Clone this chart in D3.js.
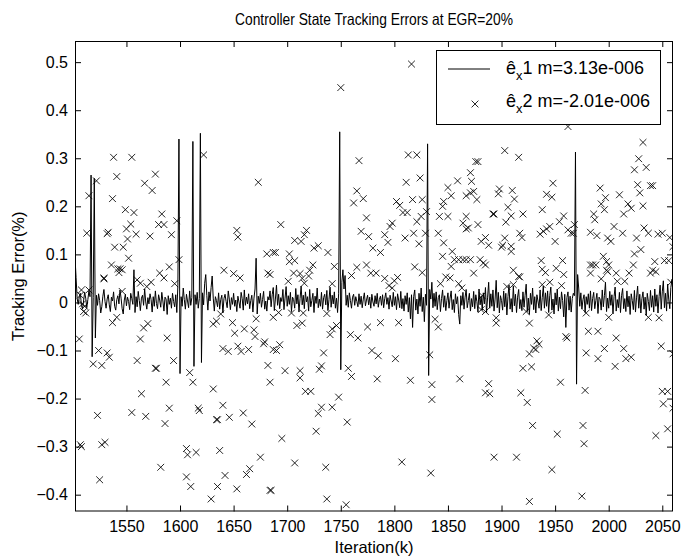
<!DOCTYPE html>
<html>
<head>
<meta charset="utf-8">
<script src="https://cdn.jsdelivr.net/npm/d3@7"></script>
<style>
  html, body { margin: 0; padding: 0; background: #fff; }
  svg { display: block; font-family: "Liberation Sans", Arial, Helvetica, sans-serif; }
</style>
</head>
<body>
<svg id="chart" width="683" height="558"></svg>
<script>
// Controller state tracking errors, EGR = 20%
const titleText = "Controller State Tracking Errors at EGR=20%";
const xLabel = "Iteration(k)";
const yLabel = "Tracking Error(%)";

const xTicks = [1550, 1600, 1650, 1700, 1750, 1800, 1850, 1900, 1950, 2000, 2050];
const yTicks = [-0.4, -0.3, -0.2, -0.1, 0, 0.1, 0.2, 0.3, 0.4, 0.5];
const xDomain = [1502, 2060];
const yDomain = [-0.435, 0.544];

// ê_x1: one value per iteration, starting at 1502
const ex1Start = 1502;
const ex1Values = [
  .093, .052, .008, -.004, .012, .019, -.006, -.014, .003, .021,
  .009, -.011, .006, .024, .012, .265, -.113, .010, .258, -.074,
  .015, -.006, .018, .004, -.022, -.009, .013, .027, .002, -.012,
  .007, .016, -.005, -.019, .011, .003, .022, -.008, -.016, .006,
  .014, -.003, .026, .009, -.013, -.024, .005, .017, -.007, .011,
  .002, -.015, .019, .008, -.004, .068, -.021, .012, -.009, .023,
  .004, -.017, .009, .015, -.006, .028, .001, -.014, .010, -.003,
  .018, .006, -.020, .012, -.008, .024, -.002, -.013, .016, .005,
  -.010, .021, .003, -.018, .011, .007, -.025, .014, -.004, .009,
  -.012, .019, .002, -.009, .016, -.021, .035, .340, -.148, .012,
  -.008, .030, .006, -.014, .017, .003, -.011, .024, -.006, .010,
  .335, -.133, .016, -.004, .021, -.012, .008, .352, -.125, .020,
  -.005, .040, .058, .014, -.016, .022, .003, .031, .055, .009,
  -.018, .012, .004, -.009, .020, -.014, .006, .015, -.022, .008,
  .017, .002, -.011, .024, .007, -.015, .010, -.004, .019, -.008,
  .005, -.019, .013, .001, -.012, .021, .008, -.016, .026, -.006,
  .011, -.003, .018, -.013, .004, .015, -.020, .009, .028, .092,
  -.024, .013, -.002, .019, -.010, .006, .023, -.014, .003, -.018,
  .012, .005, .024, -.009, .016, .031, -.017, .007, .036, -.006,
  .017, -.013, .010, .002, .027, -.015, .009, .033, -.008, .014,
  -.004, .021, -.019, .011, .006, -.012, .029, -.003, .016, -.020,
  .008, .034, -.005, .015, -.013, .022, .001, .012, -.018, .027,
  -.009, .004, .019, -.021, .013, -.002, .030, -.011, .007, -.008,
  .021, -.014, .010, .017, -.005, .025, -.017, .006, .032, -.010,
  .015, -.003, .022, -.012, .009, -.021, .018, .355, -.140, .042,
  .068, .028, .056, -.006, .015, -.010, .020, .004, -.012, .011,
  .017, -.006, .012, .002, -.009, .018, -.004, .013, -.011, .007,
  .020, -.007, .005, .015, -.005, .011, -.012, .017, .001, -.008,
  .014, -.003, .019, -.010, .006, .013, -.006, .016, -.011, .008,
  .020, -.004, .010, -.014, .015, .003, -.009, .021, -.006, .012,
  -.015, .018, .005, -.011, .023, -.013, .008, -.018, .014, -.004,
  .020, -.020, .010, -.034, .016, -.052, .012, .026, -.016, .007,
  -.024, .019, -.008, .030, -.019, .011, -.040, .017, -.006, .330,
  -.152, .027, .007, .042, -.011, .019, -.008, .022, -.015, .010,
  .016, -.019, .008, .026, -.010, .014, -.017, .004, .020, -.012,
  .009, .024, -.015, .006, -.021, .018, -.003, .012, -.025, -.045,
  .014, -.006, .021, -.014, .011, .027, -.011, .004, .019, -.018,
  .008, -.009, .023, -.013, .016, .002, -.020, .028, -.005, .013,
  -.016, .020, -.003, .031, -.022, .011, .042, -.012, .018, -.008,
  .026, -.018, .007, .046, -.011, .021, -.022, .014, .004, -.016,
  .024, -.009, .019, -.026, .012, .036, -.014, .008, -.020, .034,
  -.007, .017, -.021, .011, .027, -.013, .006, -.017, .022, -.010,
  .015, .038, -.019, .009, -.025, .019, -.004, .030, -.015, .012,
  -.022, .016, .003, -.012, .026, -.017, .010, .034, -.012, .020,
  -.008, .024, -.021, .014, .032, -.016, .007, -.024, .020, -.005,
  .028, -.018, .011, -.013, .022, .004, -.030, .017, -.052, .010,
  .022, -.016, .013, -.020, .008, .019, .014, .313, -.170, .058,
  .030, -.008, .020, -.014, .006, .016, -.021, .012, -.004, .018,
  -.012, .024, -.017, .008, .021, -.013, .004, .019, -.023, .011,
  .007, -.016, .026, -.009, .014, .042, -.019, .009, -.012, .023,
  -.006, .016, -.024, .012, .032, -.018, .006, -.011, .021, -.021,
  .014, .029, -.013, .008, -.019, .024, -.009, .013, -.025, .018,
  .004, -.015, .025, -.020, .011, .034, -.012, .017, -.022, .008,
  .022, -.014, .011, -.027, .019, .002, -.017, .025, -.010, .014,
  -.020, .028, -.008, .016, -.022, .012, .036, -.014, .022, .045,
  -.011, .019, -.018, .038, .007, -.013, .031, .048, .022
];

// ê_x2: iteration and value of each marker
const ex2Iter = [
  1513, 1515, 1522, 1529, 1532, 1533, 1536, 1537, 1538, 1539, 1541, 1542, 1543, 1544, 1546, 1547,
  1549, 1550, 1551, 1552, 1554, 1555, 1557, 1559, 1567, 1572, 1574, 1577, 1580, 1583, 1585, 1581,
  1590, 1592, 1597, 1599, 1622, 1641, 1650, 1653, 1654, 1656, 1673, 1681, 1684, 1687,
  1508, 1507, 1509, 1511, 1510, 1512, 1506, 1515, 1519, 1524, 1523, 1527, 1529, 1532, 1534, 1537,
  1541, 1507, 1508, 1525, 1527, 1530, 1546, 1555, 1560, 1563, 1563, 1560, 1564, 1566, 1570, 1568,
  1569, 1573, 1577, 1578, 1585, 1582, 1587, 1588, 1586, 1590, 1594, 1595, 1606, 1607, 1606, 1609,
  1610, 1612, 1615, 1617, 1618, 1629, 1631, 1631, 1634, 1634, 1635, 1635, 1637, 1638, 1640, 1640,
  1642, 1645, 1646, 1649, 1651, 1653, 1654, 1657, 1660, 1659, 1662, 1664, 1665, 1667, 1670, 1669,
  1671, 1675, 1678, 1679, 1682, 1684, 1684, 1685, 1687, 1687, 1682,
  1816, 1750, 1767, 1813, 1821, 1824, 1811, 1765, 1762, 1771, 1774, 1769, 1776, 1780, 1787, 1791,
  1794, 1796, 1798, 1802, 1805, 1808, 1812, 1810, 1817, 1818, 1821, 1823, 1825, 1826, 1829, 1830,
  1826, 1819, 1841, 1842, 1845, 1846, 1850, 1853, 1850, 1846, 1845, 1854, 1856, 1860, 1864, 1867,
  1871, 1880, 1859, 1853, 1852, 1864, 1867, 1867, 1869, 1867, 1871, 1872, 1871, 1874, 1877, 1876,
  1878, 1878, 1881, 1885, 1874, 1689, 1694, 1702, 1702, 1707, 1706, 1707, 1713, 1716, 1718, 1721,
  1724, 1720, 1725, 1729, 1738, 1744, 1760, 1765, 1774, 1778, 1783, 1791, 1803,
  1701, 1712, 1714, 1716, 1742, 1795, 1798, 1800, 1843, 1848, 1860, 1863, 1692, 1704, 1709, 1714,
  1715, 1737, 1746, 1742, 1740, 1693, 1690, 1698, 1712, 1712, 1717, 1722, 1734, 1730, 1732, 1732,
  1729, 1742, 1748, 1727, 1756, 1695, 1707, 1736, 1737, 1755, 1759, 1766, 1757, 1760, 1779, 1785,
  1775, 1787, 1784, 1801, 1804, 1815, 1807, 1834, 1833, 1835, 1835, 1838, 1841, 1861, 1888, 1885,
  1903, 1916, 1962, 2032, 2028, 2024, 2035, 2027, 2029, 2039, 2041, 2032, 2018, 2021, 2014, 2010,
  1997, 1992, 1993, 1996, 1986, 1987, 2005, 2013, 1983, 1989, 1999, 2002, 1995, 1998, 2000, 2007,
  2008, 1998, 1993, 1983, 1985, 1988, 1983, 2019, 2023, 2024, 2030, 2026, 2033, 2037, 2046, 2050,
  2057, 2060, 2043, 2041, 2052, 2056, 2044, 2058, 2015, 1948, 1942, 1947, 1898, 1897, 1910, 1912,
  1906, 1904, 1909, 1892, 1893, 1920, 1938, 1954, 1958, 1962, 1965, 1967, 1968, 1936, 1939, 1942,
  1945, 1917, 1919, 1885, 1888, 1901, 1903, 1900, 1909, 1909, 1950, 1883, 1911, 1917, 1905, 1911,
  1937, 1938, 1941, 1945, 1951, 1957, 1958, 1956,
  1916, 1938, 1999, 2039, 1882, 1881, 1885, 1895, 1895, 1923, 1926, 1944, 1960, 1961, 1979, 1981,
  1990, 2000, 2007, 2037, 2047, 1933, 1935, 1932, 1930, 1926, 1928, 1920, 1979, 1990, 1996, 2006,
  2014, 2016, 2021, 2049, 2060, 1889, 1918, 1924, 1955, 1978, 2050, 2055, 2051, 2060, 1929, 1952,
  1976, 1977, 2044, 2055, 1893, 1914, 1947, 1926, 1975
];
const ex2Val = [
  0.144, 0.222, 0.253, 0.051, 0.143, 0.146, 0.078, 0.216, 0.302, 0.115, 0.262, 0.070, 0.062, 0.070, 0.068, 0.115,
  0.193, 0.153, 0.132, 0.092, 0.163, 0.302, 0.187, 0.142, 0.248, 0.138, 0.233, 0.267, 0.162, 0.184, 0.162, 0.061,
  0.074, 0.141, 0.170, 0.089, 0.307, 0.067, 0.060, 0.150, 0.136, 0.051, 0.250, 0.101, 0.058, 0.104,
  0.026, 0.015, -0.003, -0.008, -0.019, -0.022, -0.076, 0.026, -0.128, -0.100, -0.235, -0.131, 0.049, -0.105, -0.114, -0.042,
  -0.031, -0.296, -0.300, -0.369, -0.296, -0.291, 0.023, -0.229, 0.047, 0.040, -0.076, -0.121, -0.190, -0.053, -0.044, -0.237,
  0.033, 0.042, -0.137, -0.137, 0.051, -0.343, -0.166, -0.074, -0.252, -0.220, -0.121, 0.039, -0.304, -0.317, -0.363, -0.146,
  -0.383, -0.166, -0.312, -0.220, -0.225, -0.409, -0.180, -0.045, -0.039, -0.244, -0.244, -0.383, -0.308, -0.024, -0.096, -0.214,
  -0.360, -0.102, -0.239, -0.042, -0.064, -0.388, -0.091, -0.102, -0.055, -0.230, -0.358, -0.098, -0.346, -0.253, -0.071, -0.057,
  -0.034, -0.322, -0.086, -0.082, -0.131, -0.166, -0.391, -0.391, -0.031, -0.098, 0.061,
  0.496, 0.447, 0.295, 0.307, 0.307, 0.259, 0.250, 0.232, 0.207, 0.216, 0.176, 0.148, 0.137, 0.113, 0.104, 0.141,
  0.125, 0.158, 0.165, 0.210, 0.202, 0.187, 0.187, 0.134, 0.214, 0.144, 0.168, 0.122, 0.179, 0.214, 0.144, 0.189,
  0.062, 0.074, 0.144, 0.179, 0.200, 0.210, 0.239, 0.222, 0.179, 0.124, 0.096, 0.106, 0.089, 0.089, 0.089, 0.089,
  0.089, 0.089, 0.253, 0.075, 0.051, 0.165, 0.179, 0.153, 0.155, 0.222, 0.228, 0.252, 0.270, 0.231, 0.214, 0.293,
  0.293, 0.162, 0.127, 0.078, 0.061, 0.104, 0.162, 0.101, 0.085, 0.087, 0.061, 0.129, 0.127, 0.141, 0.150, 0.067,
  0.078, 0.055, 0.113, 0.118, 0.104, 0.075, 0.056, 0.073, 0.078, 0.061, 0.061, 0.050, 0.052,
  0.044, 0.060, 0.050, 0.040, 0.039, 0.035, 0.030, 0.045, 0.039, 0.053, 0.039, 0.030, -0.021, -0.022, -0.048, -0.043,
  -0.022, -0.023, -0.048, -0.055, -0.067, -0.088, -0.100, -0.142, -0.142, -0.157, -0.185, -0.185, -0.105, -0.139, -0.132, -0.218,
  -0.231, -0.218, -0.197, -0.268, -0.249, -0.283, -0.334, -0.343, -0.409, -0.421, -0.067, -0.074, -0.137, -0.154, -0.100, -0.111,
  -0.051, -0.042, -0.159, -0.117, -0.042, -0.162, -0.332, -0.355, -0.109, -0.171, -0.202, -0.035, -0.051, -0.159, -0.169, -0.188,
  0.316, 0.302, 0.366, 0.333, 0.299, 0.276, 0.281, 0.245, 0.228, 0.243, 0.243, 0.201, 0.205, 0.196, 0.184, 0.224,
  0.218, 0.238, 0.205, 0.193, 0.184, 0.172, 0.158, 0.144, 0.146, 0.139, 0.134, 0.127, 0.096, 0.085, 0.078, 0.061,
  0.044, 0.067, 0.049, 0.078, 0.078, 0.078, 0.061, 0.061, 0.078, 0.101, 0.110, 0.134, 0.155, 0.144, 0.142, 0.144,
  0.135, 0.116, 0.085, 0.067, 0.087, 0.087, 0.064, 0.042, 0.044, 0.248, 0.225, 0.219, 0.236, 0.226, 0.233, 0.215,
  0.198, 0.167, 0.180, 0.184, 0.184, 0.184, 0.193, 0.168, 0.180, 0.151, 0.144, 0.144, 0.162, 0.142, 0.148, 0.153,
  0.158, 0.144, 0.135, 0.135, 0.119, 0.119, 0.134, 0.115, 0.117, 0.106, 0.127, 0.082, 0.067, 0.053, 0.033, 0.037,
  0.087, 0.069, 0.062, 0.042, 0.071, 0.087, 0.058, 0.035,
  0.054, 0.037, 0.064, 0.061, 0.014, -0.015, -0.019, -0.032, -0.043, -0.019, -0.043, -0.026, -0.071, -0.074, -0.022, -0.060,
  -0.060, -0.031, -0.074, -0.031, -0.032, -0.080, -0.087, -0.098, -0.095, -0.107, -0.134, -0.137, -0.105, -0.117, -0.096, -0.133,
  -0.096, -0.117, -0.114, -0.091, -0.107, -0.190, -0.188, -0.208, -0.166, -0.183, -0.185, -0.185, -0.211, -0.220, -0.256, -0.274,
  -0.256, -0.294, -0.277, -0.263, -0.322, -0.322, -0.348, -0.414, -0.403
];

const legendLabels = [
  { base: "ê", sub: "x", rest: "1 m=3.13e-006" },
  { base: "ê", sub: "x", rest: "2 m=-2.01e-006" }
];

const W = 683, H = 558;
const margin = { top: 41, right: 10, bottom: 46.5, left: 75 };
const svg = d3.select("#chart");

const x = d3.scaleLinear().domain(xDomain).range([margin.left, W - margin.right]);
const y = d3.scaleLinear().domain(yDomain).range([H - margin.bottom, margin.top]);

svg.append("defs").append("clipPath").attr("id", "plot-clip")
  .append("rect")
  .attr("x", margin.left).attr("y", margin.top)
  .attr("width", W - margin.left - margin.right)
  .attr("height", H - margin.top - margin.bottom);

const tickLen = 6;
const tickFont = 16;
const labelFont = 16.5;
const titleFont = 16.5;
const legendFont = 18;

// axes: ticks point inward, labels outside
const xAxisBottom = d3.axisBottom(x).tickValues(xTicks).tickSize(-tickLen).tickPadding(9).tickFormat(d3.format("d"));
const xAxisTop = d3.axisTop(x).tickValues(xTicks).tickSize(-tickLen).tickFormat("");
const yAxisLeft = d3.axisLeft(y).tickValues(yTicks).tickSize(-tickLen).tickPadding(7).tickFormat(d => d === 0 ? "0" : d3.format(".1f")(d));
const yAxisRight = d3.axisRight(y).tickValues(yTicks).tickSize(-tickLen).tickFormat("");

function styleAxis(g) {
  g.select(".domain").remove();
  g.selectAll(".tick line").attr("stroke", "#000").attr("stroke-width", 1);
  g.selectAll(".tick text").attr("fill", "#000").style("font-size", tickFont + "px")
    .style("font-family", '"Liberation Sans", Arial, sans-serif');
}

svg.append("g").attr("transform", `translate(0,${H - margin.bottom})`).call(xAxisBottom).call(styleAxis);
svg.append("g").attr("transform", `translate(0,${margin.top})`).call(xAxisTop).call(styleAxis);
svg.append("g").attr("transform", `translate(${margin.left},0)`).call(yAxisLeft).call(styleAxis);
svg.append("g").attr("transform", `translate(${W - margin.right},0)`).call(yAxisRight).call(styleAxis);

// ê_x2 markers
const cross = 3.4;
const markerPath = (cx, cy) => `M${cx - cross},${cy - cross}L${cx + cross},${cy + cross}M${cx - cross},${cy + cross}L${cx + cross},${cy - cross}`;
svg.append("g").attr("clip-path", "url(#plot-clip)")
  .selectAll("path")
  .data(ex2Iter.map((k, i) => [k, ex2Val[i]]))
  .join("path")
  .attr("d", d => markerPath(x(d[0]), y(d[1])))
  .attr("stroke", "#000").attr("stroke-width", 0.85).attr("fill", "none");

// ê_x1 line
const ex1 = ex1Values.map((v, i) => [ex1Start + i, v]);
svg.append("path")
  .datum(ex1)
  .attr("clip-path", "url(#plot-clip)")
  .attr("d", d3.line().x(d => x(d[0])).y(d => y(d[1])))
  .attr("fill", "none").attr("stroke", "#000").attr("stroke-width", 1);

// plot box
svg.append("rect")
  .attr("x", margin.left + 0.5).attr("y", margin.top + 0.5)
  .attr("width", W - margin.left - margin.right - 1)
  .attr("height", H - margin.top - margin.bottom - 1)
  .attr("fill", "none").attr("stroke", "#000").attr("stroke-width", 1);

// title (narrow setting) and axis labels
const cx = (margin.left + W - margin.right) / 2;
svg.append("text").attr("x", cx).attr("y", 25)
  .attr("text-anchor", "middle").style("font-size", titleFont + "px")
  .attr("textLength", 278).attr("lengthAdjust", "spacingAndGlyphs")
  .text(titleText);
svg.append("text").attr("x", cx).attr("y", 553)
  .attr("text-anchor", "middle").style("font-size", labelFont + "px").text(xLabel);
svg.append("text").attr("transform", `translate(24,${(margin.top + H - margin.bottom) / 2}) rotate(-90)`)
  .attr("text-anchor", "middle").style("font-size", labelFont + "px").text(yLabel);

// legend
const lg = svg.append("g");
lg.append("rect").attr("x", 436.5).attr("y", 50.5).attr("width", 224).attr("height", 74)
  .attr("fill", "#fff").attr("stroke", "#000").attr("stroke-width", 1);
lg.append("line").attr("x1", 448).attr("x2", 490).attr("y1", 69).attr("y2", 69)
  .attr("stroke", "#000").attr("stroke-width", 1);
lg.append("path").attr("d", markerPath(475, 104)).attr("stroke", "#000").attr("stroke-width", 0.85);
legendLabels.forEach((l, i) => {
  const t = lg.append("text").attr("x", 506).attr("y", 74 + i * 33).style("font-size", legendFont + "px");
  t.append("tspan").text(l.base);
  t.append("tspan").attr("dy", 6).style("font-size", (legendFont * 0.72) + "px").text(l.sub);
  t.append("tspan").attr("dy", -6).text(l.rest);
});
</script>
</body>
</html>
